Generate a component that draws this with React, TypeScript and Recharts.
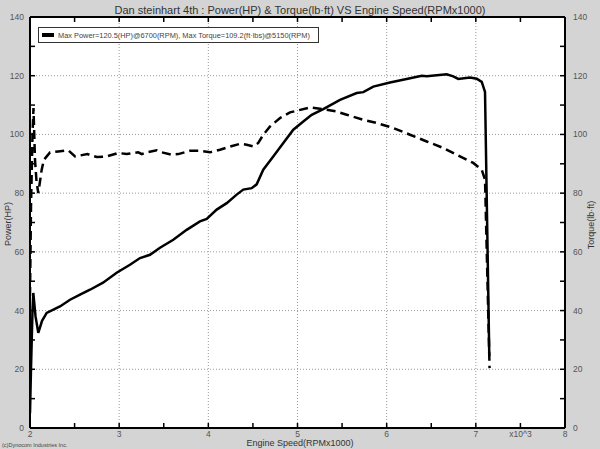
import { LineChart, Line, XAxis, YAxis, CartesianGrid } from 'recharts';

// Engine speed in RPM x1000, power in HP
const powerRpm = [
  2.0, 2.011, 2.028, 2.037, 2.062, 2.093, 2.135, 2.187, 2.336, 2.449, 2.561, 2.673, 2.819, 2.972,
  3.121, 3.234, 3.346, 3.458, 3.607, 3.757, 3.906, 3.982, 4.094, 4.206, 4.318, 4.392, 4.486, 4.542,
  4.616, 4.728, 4.841, 4.953, 5.065, 5.159, 5.289, 5.477, 5.664, 5.738, 5.85, 6.037, 6.224, 6.393,
  6.449, 6.673, 6.747, 6.803, 6.934, 7.01, 7.066, 7.103, 7.151,
];
const powerHp = [
  5, 20, 40, 46, 38, 32.4, 36.5, 39.2, 41.4, 43.7, 45.4, 47.1, 49.5, 52.9,
  55.6, 57.9, 59, 61.4, 64.1, 67.5, 70.4, 71.2, 74.4, 76.6, 79.5, 81.2, 81.7, 83,
  88, 92.5, 97.1, 101.6, 104.4, 106.7, 108.6, 111.8, 114.1, 114.4, 116.3, 117.7, 118.9, 120,
  119.8, 120.5, 119.8, 118.9, 119.4, 119, 117.9, 114.5, 24.4,
];

// torque in lb-ft
const torqueRpm = [
  2.0, 2.011, 2.028, 2.039, 2.056, 2.073, 2.093, 2.131, 2.157, 2.224, 2.317, 2.43, 2.505, 2.643,
  2.748, 2.86, 2.99, 3.084, 3.215, 3.253, 3.309, 3.421, 3.477, 3.589, 3.663, 3.794, 3.906, 4.019,
  4.131, 4.224, 4.355, 4.43, 4.504, 4.56, 4.616, 4.692, 4.804, 4.916, 5.14, 5.289, 5.439, 5.552,
  5.738, 5.888, 6.074, 6.262, 6.449, 6.635, 6.822, 6.971, 7.066, 7.103, 7.154,
];
const torqueLbft = [
  45, 75, 100, 109, 91.4, 84, 80, 88, 91.4, 93.9, 94.2, 94.6, 92.5, 93.3,
  92.3, 92.5, 93.7, 93.3, 93.9, 93.3, 93.9, 94.6, 93.9, 93.1, 93.3, 94.4, 94.4, 93.9,
  94.8, 95.7, 96.8, 96.5, 95.9, 97.1, 99.9, 102.7, 105.6, 107.5, 109.2, 108.6, 107.8, 106.7,
  105, 103.9, 102.2, 99.9, 97.6, 95.4, 92.5, 90.3, 88, 84.6, 20.4,
];

const xTicks = [2, 2.5, 3, 3.5, 4, 4.5, 5, 5.5, 6, 6.5, 7, 7.5, 8];
const yTicks = [0, 10, 20, 30, 40, 50, 60, 70, 80, 90, 100, 110, 120, 130, 140];
const gridX = [3, 4, 5, 6, 7];
const gridY = [20, 40, 60, 80, 100, 120];

const powerData = powerRpm.map((rpm, i) => ({ rpm, value: powerHp[i] }));
const torqueData = torqueRpm.map((rpm, i) => ({ rpm, value: torqueLbft[i] }));

const FONT = '"Liberation Sans", Arial, sans-serif';
const LABEL = '#555';
const M = 6; // tickMargin
const T = 5; // inward tick length

const xLabel = (v: number) => (v === 7.5 ? 'x10^3' : Number.isInteger(v) ? String(v) : '');

const BottomTick = (p: any) => {
  const v = p.payload.value;
  const ay = p.y - M;
  return (
    <g>
      <line x1={p.x} y1={ay} x2={p.x} y2={ay - T} stroke="#000" strokeWidth={1.5} />
      <text x={p.x} y={p.y + 3} textAnchor="middle" fontSize={8.5} fill={LABEL} fontFamily={FONT}>
        {xLabel(v)}
      </text>
    </g>
  );
};

const TopTick = (p: any) => {
  const ay = p.y + M;
  return <line x1={p.x} y1={ay} x2={p.x} y2={ay + T} stroke="#000" strokeWidth={1.5} />;
};

const LeftTick = (p: any) => {
  const v = p.payload.value;
  const ax = p.x + M;
  return (
    <g>
      <line x1={ax} y1={p.y} x2={ax + T} y2={p.y} stroke="#000" strokeWidth={1.5} />
      {v % 20 === 0 && (
        <text x={p.x} y={p.y + 3} textAnchor="end" fontSize={8.5} fill={LABEL} fontFamily={FONT}>
          {v}
        </text>
      )}
    </g>
  );
};

const RightTick = (p: any) => {
  const v = p.payload.value;
  const ax = p.x - M;
  return (
    <g>
      <line x1={ax} y1={p.y} x2={ax - T} y2={p.y} stroke="#000" strokeWidth={1.5} />
      {v % 20 === 0 && (
        <text x={p.x + 2} y={p.y + 3} textAnchor="start" fontSize={8.5} fill={LABEL} fontFamily={FONT}>
          {v}
        </text>
      )}
    </g>
  );
};

export default function App() {
  return (
    <div style={{ position: 'absolute', left: 0, top: 0, width: 600, height: 449, background: '#d4d4d4', fontFamily: FONT }}>
      <LineChart width={600} height={449} margin={{ top: 0, right: 0, bottom: 0, left: 0 }}>
        <CartesianGrid
          xAxisId="bottom"
          yAxisId="left"
          fill="#fff"
          stroke="#9a9a9a"
          strokeDasharray="1 2"
          horizontalValues={gridY}
          verticalValues={gridX}
        />
        <XAxis
          xAxisId="bottom"
          type="number"
          dataKey="rpm"
          domain={[2, 8]}
          allowDataOverflow
          ticks={xTicks}
          interval={0}
          height={21}
          tickSize={0}
          tickMargin={M}
          tickLine={false}
          axisLine={{ stroke: '#000', strokeWidth: 2 }}
          tick={<BottomTick />}
        />
        <XAxis
          xAxisId="top"
          orientation="top"
          type="number"
          dataKey="rpm"
          domain={[2, 8]}
          allowDataOverflow
          ticks={xTicks}
          interval={0}
          height={17}
          tickSize={0}
          tickMargin={M}
          tickLine={false}
          axisLine={{ stroke: '#000', strokeWidth: 2 }}
          tick={<TopTick />}
        />
        <YAxis
          yAxisId="left"
          type="number"
          domain={[0, 140]}
          allowDataOverflow
          ticks={yTicks}
          interval={0}
          width={30}
          tickSize={0}
          tickMargin={M}
          tickLine={false}
          axisLine={{ stroke: '#000', strokeWidth: 2 }}
          tick={<LeftTick />}
        />
        <YAxis
          yAxisId="right"
          orientation="right"
          type="number"
          domain={[0, 140]}
          allowDataOverflow
          ticks={yTicks}
          interval={0}
          width={35}
          tickSize={0}
          tickMargin={M}
          tickLine={false}
          axisLine={{ stroke: '#000', strokeWidth: 2 }}
          tick={<RightTick />}
        />
        <Line
          xAxisId="bottom"
          yAxisId="left"
          data={powerData}
          dataKey="value"
          type="linear"
          stroke="#000"
          strokeWidth={2.5}
          dot={false}
          isAnimationActive={false}
        />
        <Line
          xAxisId="bottom"
          yAxisId="right"
          data={torqueData}
          dataKey="value"
          type="linear"
          stroke="#000"
          strokeWidth={2.5}
          strokeDasharray="9 5"
          dot={false}
          isAnimationActive={false}
        />
      </LineChart>

      {/* titles & axis labels */}
      <svg width={600} height={449} style={{ position: 'absolute', left: 0, top: 0, pointerEvents: 'none' }}>
        <text x={300} y={14} textAnchor="middle" fontSize={11} fill="#333" fontFamily={FONT}>
          Dan steinhart 4th : Power(HP) &amp; Torque(lb·ft) VS Engine Speed(RPMx1000)
        </text>
        <text x={300} y={446} textAnchor="middle" fontSize={9} fill="#333" fontFamily={FONT}>
          Engine Speed(RPMx1000)
        </text>
        <text x={11} y={224} transform="rotate(-90 11 224)" textAnchor="middle" fontSize={9} fill="#333" fontFamily={FONT}>
          Power(HP)
        </text>
        <text x={594} y={225} transform="rotate(-90 594 225)" textAnchor="middle" fontSize={9} fill="#333" fontFamily={FONT}>
          Torque(lb·ft)
        </text>
        <text x={2} y={447} fontSize={5.5} fill="#444" fontFamily={FONT}>
          (c)Dynocom Industries Inc.
        </text>
      </svg>

      {/* legend */}
      <div
        style={{
          position: 'absolute',
          left: 38,
          top: 27,
          width: 279,
          height: 14,
          background: '#fff',
          border: '1px solid #333',
          display: 'flex',
          alignItems: 'center',
          fontSize: 7.4,
          color: '#444',
          whiteSpace: 'nowrap',
          overflow: 'hidden',
        }}
      >
        <div style={{ flexShrink: 0, width: 12, height: 4, background: '#000', marginLeft: 3, marginRight: 4 }} />
        <span>Max Power=120.5(HP)@6700(RPM), Max Torque=109.2(ft·lbs)@5150(RPM)</span>
      </div>
    </div>
  );
}
